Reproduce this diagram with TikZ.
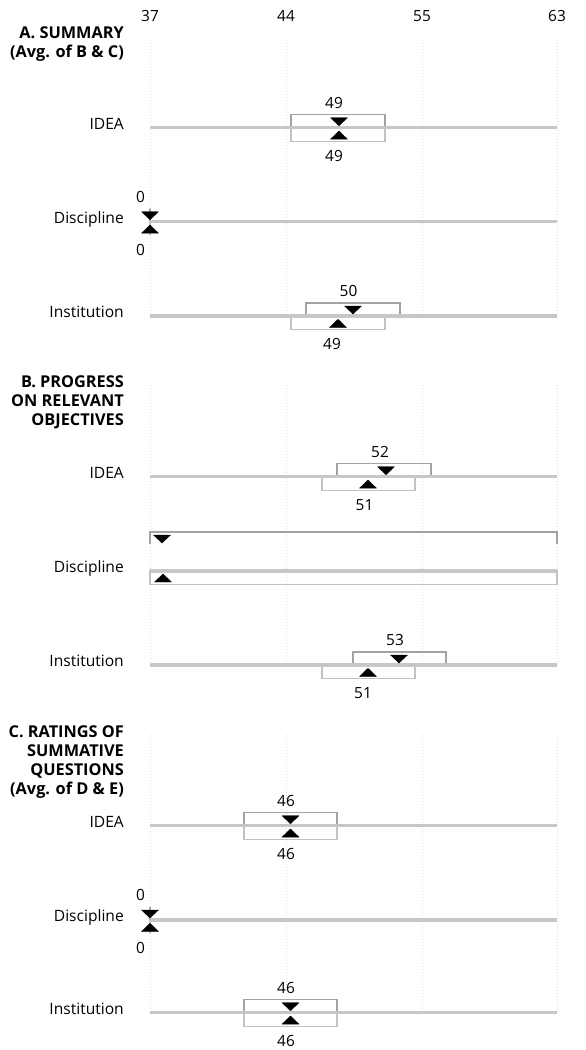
\documentclass[tikz,border=0pt]{standalone}
\usepackage{fontspec}
\setmainfont{Open Sans}

\begin{document}
\begin{tikzpicture}[x=1pt, y=-1pt,
  grid/.style={draw=black!13, dotted, line width=1pt},
  bar/.style={draw=black!22, line width=3.5pt},
  hibox/.style={draw=black!36, line width=1.4pt},
  lobox/.style={draw=black!24, line width=1.4pt},
  tri/.style={fill=black, draw=black, line width=0.4pt, line join=round},
  lab/.style={font=\fontsize{15.6}{19.2}\selectfont, inner sep=0pt, anchor=base east},
  val/.style={font=\fontsize{15.4}{19.2}\selectfont, inner sep=0pt, anchor=base},
  head/.style={font=\fontsize{16.3}{19.2}\selectfont\bfseries, align=right, inner sep=0pt, anchor=north east}]

\useasboundingbox (0,0) rectangle (586,1050);
\fill[white] (0,0) rectangle (586,1050);

% scale along the top
\foreach \v/\gx in {37/150, 44/286, 55/422, 63/557}
  \node[val] (tick\v) at (\gx,21) {\v};

% dotted grid, one block per section
\foreach \gx in {150,286,422,557}
  \foreach \gtop/\gbot in {37/316, 385/665, 735/1012.7}
    \draw[grid] (\gx,\gtop) -- (\gx,\gbot);

% section headings
\node[head] (headA) at (124,26.5) {A. SUMMARY\\(Avg. of B \& C)};
\node[head] (headB) at (124,375) {B. PROGRESS\\ON RELEVANT\\OBJECTIVES};
\node[head] (headC) at (124,725) {C. RATINGS OF\\SUMMATIVE\\QUESTIONS\\(Avg. of D \& E)};

% row labels
\foreach \y/\t/\nm in {127.7/IDEA/ideaA, 221.7/Discipline/discA, 316/Institution/instA,
    476.7/IDEA/ideaB, 571/Discipline/discB, 665/Institution/instB,
    825.7/IDEA/ideaC, 920/Discipline/discC, 1012.7/Institution/instC}
  \node[lab] (\nm) at (124,\y+1.5) {\t};

% rows: bar y / upper box, mark, label x, value / lower box, mark, label x, value
\foreach \y/\ul/\ur/\um/\ux/\uv/\ll/\lr/\lm/\lx/\lv/\nm in {
    127.7/291/385/339/334/49/291/385/339/334/49/ideaA,
    221.7/150/150/150/140.5/0/150/150/150/140.5/0/discA,
    316/306/400/353/348.5/50/291/385/338/332/49/instA,
    476.7/337/431/386/380/52/322/415/368/364.5/51/ideaB,
    665/353/446/399/395/53/322/415/368/363/51/instB,
    825.7/244/337/290.5/286/46/244/337/290.5/286/46/ideaC,
    920/150/150/150/140.5/0/150/150/150/140.5/0/discC,
    1012.7/244/337/290.5/286/46/244/337/290.5/286/46/instC}{
  \draw[hibox] (\ul,\y-13) rectangle (\ur,\y);
  \draw[lobox] (\ll,\y) rectangle (\lr,\y+13.5);
  \draw[bar] (150,\y) -- (557,\y);
  \filldraw[tri] (\um-8.5,\y-10) -- (\um+8.5,\y-10) -- (\um,\y-2) -- cycle;
  \filldraw[tri] (\lm-8.5,\y+11.5) -- (\lm+8.5,\y+11.5) -- (\lm,\y+3.3) -- cycle;
  \node[val] (\nm hi) at (\ux,\y-19.5) {\uv};
  \node[val] (\nm lo) at (\lx,\y+33.5) {\lv};
}

% discipline in B spans the whole scale, no values
\draw[hibox] (150,544) |- (557,532) -- (557,544);
\draw[lobox] (150,571) rectangle (557,584.5);
\draw[bar] (150,571) -- (557,571);
\filldraw[tri] (153.5,535) -- (170.5,535) -- (162,543) -- cycle;
\filldraw[tri] (154.5,582) -- (171.5,582) -- (163,574) -- cycle;
\end{tikzpicture}
\end{document}
